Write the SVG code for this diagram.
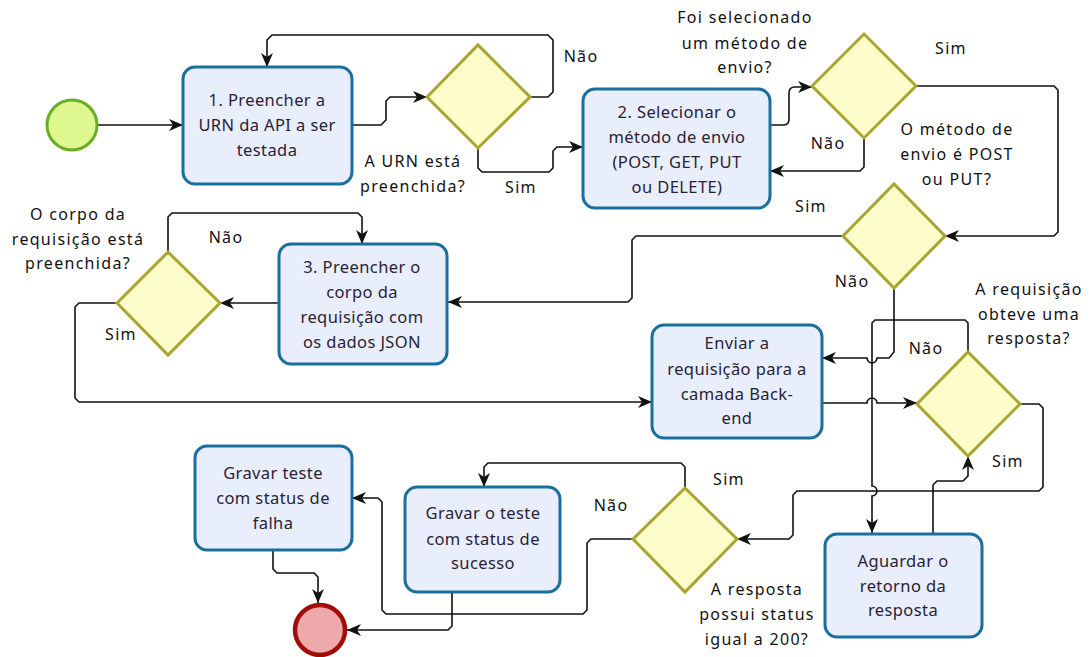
<svg xmlns="http://www.w3.org/2000/svg" width="1091" height="657" viewBox="0 0 1091 657">
  <defs>
    <marker id="arrow" viewBox="0 0 14 12" refX="14" refY="6" markerWidth="14" markerHeight="12" markerUnits="userSpaceOnUse" orient="auto">
      <path d="M0,0 L14,6 L0,12 L4,6 Z" fill="#111"/>
    </marker>
    <style>
      .task { fill: #e8eefc; stroke: #1b6f9c; stroke-width: 3; }
      .gate { fill: #fdfccb; stroke: #a8a630; stroke-width: 3; }
      .start { fill: #def88f; stroke: #6aae25; stroke-width: 3; }
      .end { fill: #eeaaaa; stroke: #a30a0a; stroke-width: 4.5; }
      .flow { fill: none; stroke: #111; stroke-width: 1.6; }
      .arr { marker-end: url(#arrow); }
      .tt { font-family: "Noto Sans", "Open Sans", sans-serif; font-size: 16.5px; fill: #2a2233; text-anchor: middle; letter-spacing: 0.4px; }
      .lb { font-family: "Noto Sans", "Open Sans", sans-serif; font-size: 16px; fill: #111; text-anchor: middle; letter-spacing: 1.3px; }
    </style>
  </defs>

  <rect width="1091" height="657" fill="#ffffff"/>

  <!-- connectors -->
  <g id="connectors">
    <path class="flow arr" d="M97,125 H183"/>
    <path class="flow arr" d="M352,125 H381 L386,120 V101 L390,97 H427"/>
    <path class="flow arr" d="M530,97 H548 L553,92 V40 L548,35 H272 L267,40 V67"/>
    <path class="flow arr" d="M478,148 V168 L482,172 H549 L553,168 V151 L557,147 H583"/>
    <path class="flow arr" d="M770,125 H784 Q789,125 789,119 V93 Q789,87 795,87 H812"/>
    <path class="flow arr" d="M864,138 V167 L860,171 H770"/>
    <path class="flow arr" d="M916,86 H1054 L1058,90 V232 L1054,236 H945"/>
    <path class="flow arr" d="M843,236 H636 L632,240 V298 L628,302 H448"/>
    <path class="flow arr" d="M279,303 H220"/>
    <path class="flow arr" d="M168,252 V217 L172,213 H358 L362,217 V244"/>
    <path class="flow arr" d="M117,303 H79 L75,307 V398 L79,402 H652"/>
    <path class="flow arr" d="M894,288 V352 L889,358 H877 A5,5 0 0 1 867,358 H822"/>
    <path class="flow arr" d="M822,403 H867 A5,5 0 0 1 877,403 H917"/>
    <path class="flow arr" d="M968,352 V323 L965,320 H875 L872,323 V486 A5,5 0 0 1 872,496 V533"/>
    <path class="flow arr" d="M1020,404 H1039 L1043,408 V487 L1039,491 H797 L793,495 V535 L789,539 H737"/>
    <path class="flow arr" d="M933,534 V485 L937,481 H963 L968,476 V456"/>
    <path class="flow arr" d="M685,488 V467 L681,463 H488 L484,467 V487"/>
    <path class="flow arr" d="M633,539 H591 L587,543 V610 L583,614 H386 L382,610 V502 L378,498 H352"/>
    <path class="flow arr" d="M273,550 V569 L277,573 H314 L318,577 V603"/>
    <path class="flow arr" d="M452,592 V626 L448,630 H347"/>
  </g>

  <!-- events -->
  <g id="start">
    <circle class="start" cx="72" cy="125" r="25"/>
  </g>
  <g id="end">
    <circle class="end" cx="320" cy="630" r="25"/>
  </g>

  <!-- tasks -->
  <g id="task-urn">
    <rect class="task" x="183" y="67" width="169" height="117" rx="12"/>
    <text class="tt" x="267" y="106">1. Preencher a</text>
    <text class="tt" x="267" y="131">URN da API a ser</text>
    <text class="tt" x="267" y="156">testada</text>
  </g>
  <g id="task-metodo">
    <rect class="task" x="583" y="89" width="187" height="119" rx="12"/>
    <text class="tt" x="677" y="118">2. Selecionar o</text>
    <text class="tt" x="677" y="143">método de envio</text>
    <text class="tt" x="677" y="168">(POST, GET, PUT</text>
    <text class="tt" x="677" y="193">ou DELETE)</text>
  </g>
  <g id="task-corpo">
    <rect class="task" x="279" y="244" width="168" height="120" rx="12"/>
    <text class="tt" x="362" y="273">3. Preencher o</text>
    <text class="tt" x="362" y="298">corpo da</text>
    <text class="tt" x="362" y="323">requisição com</text>
    <text class="tt" x="362" y="348">os dados JSON</text>
  </g>
  <g id="task-enviar">
    <rect class="task" x="652" y="325" width="170" height="113" rx="12"/>
    <text class="tt" x="737" y="349">Enviar a</text>
    <text class="tt" x="737" y="375">requisição para a</text>
    <text class="tt" x="737" y="400">camada Back-</text>
    <text class="tt" x="737" y="424">end</text>
  </g>
  <g id="task-aguardar">
    <rect class="task" x="825" y="534" width="157" height="103" rx="12"/>
    <text class="tt" x="903" y="567">Aguardar o</text>
    <text class="tt" x="903" y="592">retorno da</text>
    <text class="tt" x="903" y="616">resposta</text>
  </g>
  <g id="task-falha">
    <rect class="task" x="195" y="446" width="157" height="104" rx="12"/>
    <text class="tt" x="273" y="479">Gravar teste</text>
    <text class="tt" x="273" y="504">com status de</text>
    <text class="tt" x="273" y="529">falha</text>
  </g>
  <g id="task-sucesso">
    <rect class="task" x="405" y="487" width="155" height="105" rx="12"/>
    <text class="tt" x="483" y="519">Gravar o teste</text>
    <text class="tt" x="483" y="545">com status de</text>
    <text class="tt" x="483" y="569">sucesso</text>
  </g>

  <!-- gateways -->
  <g id="gw-urn">
    <polygon class="gate" points="427,97 478,45 530,97 478,148"/>
    <text class="lb" x="413" y="167">A URN está</text>
    <text class="lb" x="413" y="192">preenchida?</text>
    <text class="lb" x="581" y="62">Não</text>
    <text class="lb" x="521" y="193">Sim</text>
  </g>
  <g id="gw-metodo">
    <polygon class="gate" points="812,86 864,34 916,86 864,138"/>
    <text class="lb" x="745" y="23">Foi selecionado</text>
    <text class="lb" x="745" y="49">um método de</text>
    <text class="lb" x="745" y="73">envio?</text>
    <text class="lb" x="828" y="149">Não</text>
    <text class="lb" x="951" y="54">Sim</text>
  </g>
  <g id="gw-post-put">
    <polygon class="gate" points="843,236 894,184 945,236 894,288"/>
    <text class="lb" x="957" y="135">O método de</text>
    <text class="lb" x="957" y="160">envio é POST</text>
    <text class="lb" x="957" y="185">ou PUT?</text>
    <text class="lb" x="811" y="212">Sim</text>
    <text class="lb" x="852" y="287">Não</text>
  </g>
  <g id="gw-corpo">
    <polygon class="gate" points="117,303 168,252 220,303 168,355"/>
    <text class="lb" x="78" y="220">O corpo da</text>
    <text class="lb" x="78" y="245">requisição está</text>
    <text class="lb" x="78" y="269">preenchida?</text>
    <text class="lb" x="226" y="243">Não</text>
    <text class="lb" x="121" y="340">Sim</text>
  </g>
  <g id="gw-resposta">
    <polygon class="gate" points="917,404 968,352 1020,404 968,456"/>
    <text class="lb" x="1029" y="295">A requisição</text>
    <text class="lb" x="1029" y="320">obteve uma</text>
    <text class="lb" x="1029" y="344">resposta?</text>
    <text class="lb" x="926" y="354">Não</text>
    <text class="lb" x="1008" y="467">Sim</text>
  </g>
  <g id="gw-status">
    <polygon class="gate" points="633,539 685,488 737,539 685,592"/>
    <text class="lb" x="757" y="595">A resposta</text>
    <text class="lb" x="757" y="620">possui status</text>
    <text class="lb" x="757" y="645">igual a 200?</text>
    <text class="lb" x="729" y="485">Sim</text>
    <text class="lb" x="611" y="511">Não</text>
  </g>
</svg>
